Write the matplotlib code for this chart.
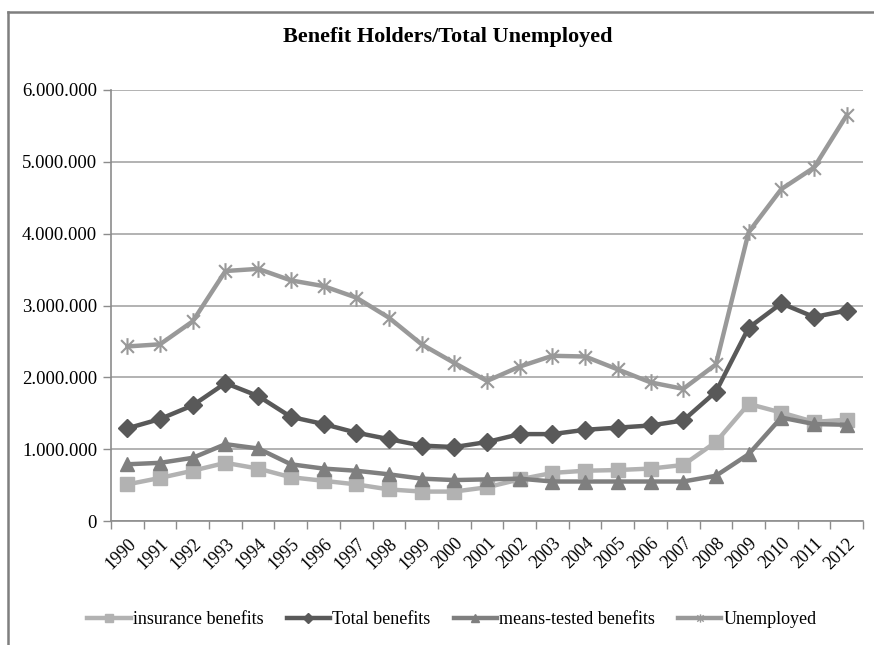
import matplotlib.pyplot as plt
import numpy as np
from matplotlib.lines import Line2D
from matplotlib.path import Path
from matplotlib.ticker import FuncFormatter

years = [str(y) for y in range(1990, 2013)]

# values (persons)
insurance = [510000, 600000, 700000, 810000, 730000, 610000, 560000, 510000, 440000, 410000,
             410000, 470000, 580000, 670000, 700000, 710000, 730000, 780000, 1100000, 1630000,
             1510000, 1380000, 1410000]
total = [1290000, 1420000, 1610000, 1920000, 1740000, 1450000, 1350000, 1230000, 1140000, 1050000,
         1030000, 1100000, 1210000, 1210000, 1270000, 1300000, 1330000, 1400000, 1800000, 2690000,
         3030000, 2840000, 2930000]
means_tested = [790000, 810000, 880000, 1070000, 1010000, 790000, 730000, 700000, 650000, 590000,
                570000, 580000, 590000, 550000, 550000, 550000, 550000, 550000, 630000, 930000,
                1440000, 1350000, 1340000]
unemployed = [2430000, 2460000, 2780000, 3480000, 3510000, 3350000, 3270000, 3110000, 2830000, 2460000,
              2200000, 1950000, 2150000, 2300000, 2290000, 2110000, 1930000, 1840000, 2180000, 4020000,
              4620000, 4920000, 5650000]

# Excel-style star: an X with a vertical bar through it
star = Path([(-1, -1), (1, 1), (-1, 1), (1, -1), (0, -1.3), (0, 1.3)],
            [Path.MOVETO, Path.LINETO, Path.MOVETO, Path.LINETO, Path.MOVETO, Path.LINETO])

plt.rcParams['font.family'] = ['Liberation Serif', 'DejaVu Serif']

fig = plt.figure(figsize=(8.74, 6.45), dpi=100)
ax = fig.add_axes([0.127, 0.1922, 0.8605, 0.6683])

x = np.arange(len(years))
series = [
    ("insurance benefits", insurance, "#b2b2b2", "s", 10.5),
    ("Total benefits", total, "#595959", "D", 9.5),
    ("means-tested benefits", means_tested, "#7f7f7f", "^", 10.5),
    ("Unemployed", unemployed, "#999999", star, 12),
]
handles = []
for label, vals, col, mk, ms in series:
    ax.plot(x, vals, color=col, lw=3.2, marker=mk, markersize=ms,
            markerfacecolor=col, markeredgecolor=col, markeredgewidth=1.5 if mk is star else 1)
    handles.append(Line2D([], [], color=col, lw=3.2, marker=mk, markersize=ms * 0.5,
                          markerfacecolor=col, markeredgecolor=col, markeredgewidth=1))

ax.set_xlim(-0.5, len(years) - 0.5)
ax.set_ylim(0, 6000000)
ax.set_yticks(np.arange(0, 6000001, 1000000))
ax.yaxis.set_major_formatter(FuncFormatter(lambda v, p: f"{int(v):,}".replace(",", ".")))
ax.grid(axis="y", color="#a6a6a6", lw=1.2)
ax.set_axisbelow(True)

ax.set_xticks(x)
ax.set_xticklabels(years, rotation=45, ha="right", rotation_mode="anchor", fontsize=13)
ax.tick_params(axis="x", length=0, pad=10)
ax.set_xticks(np.arange(-0.5, len(years)), minor=True)
ax.tick_params(axis="x", which="minor", length=6, color="#8c8c8c", width=1)
ax.tick_params(axis="y", length=6, color="#8c8c8c", width=1, labelsize=13.5, pad=4)

for side in ("top", "right"):
    ax.spines[side].set_visible(False)
for side in ("left", "bottom"):
    ax.spines[side].set_color("#8c8c8c")
    ax.spines[side].set_linewidth(1.2)

fig.text(0.512, 0.942, "Benefit Holders/Total Unemployed", ha="center", va="center",
         fontsize=16, fontweight="bold")

fig.legend(handles, [s[0] for s in series], loc="center", bbox_to_anchor=(0.517, 0.039),
           ncol=4, frameon=False, fontsize=13, handlelength=2.4, handletextpad=0.1,
           columnspacing=1.3)

# outer chart frame (top and left edges visible in the reference)
fig.add_artist(Line2D([8 / 874, 1], [1 - 12 / 645, 1 - 12 / 645], color="#7f7f7f", lw=1.8))
fig.add_artist(Line2D([8 / 874, 8 / 874], [0, 1 - 12 / 645], color="#7f7f7f", lw=1.8))

fig.savefig("out.png", dpi=100)
